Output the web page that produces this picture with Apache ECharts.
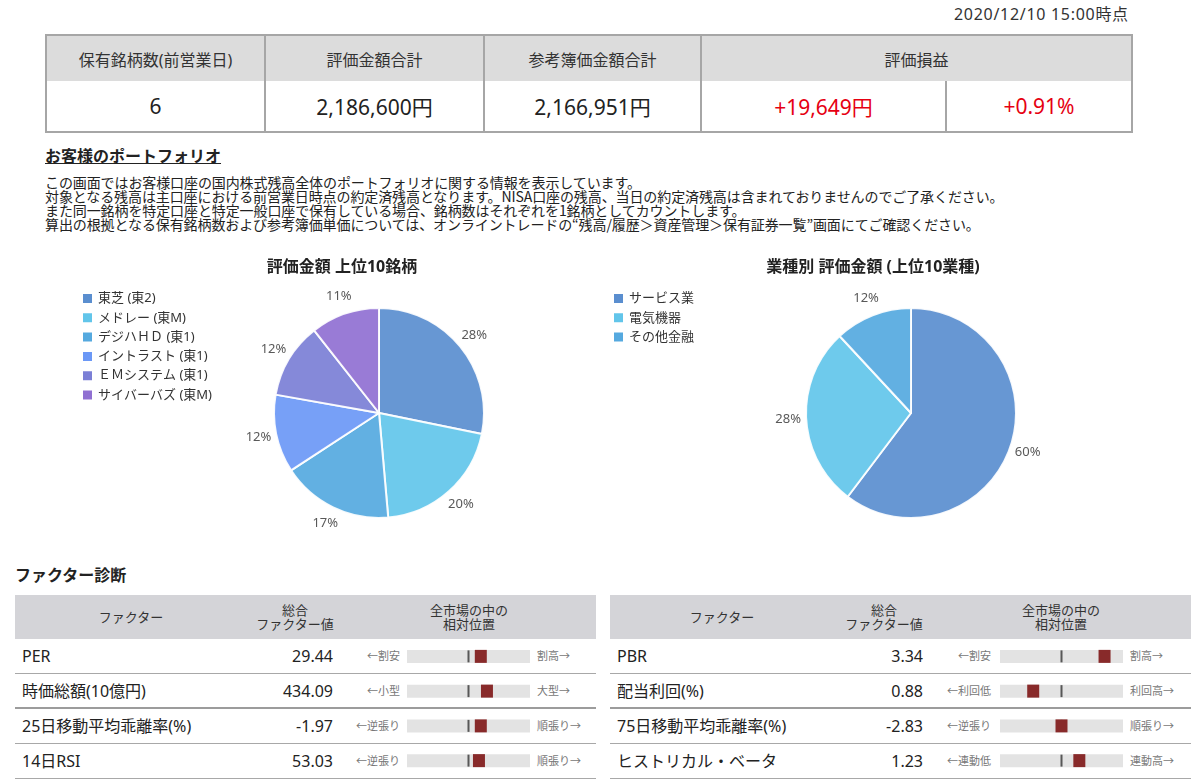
<!DOCTYPE html>
<html><head><meta charset="utf-8">
<script src="https://cdn.jsdelivr.net/npm/echarts@6/dist/echarts.min.js"></script>
<style>
body{margin:0;width:1200px;height:784px;position:relative;font-family:"Noto Sans","Noto Sans CJK JP",sans-serif;color:#333;background:#fff;overflow:hidden}
.abs{position:absolute}
#date{left:954px;top:4px;font-size:16px;line-height:20px;letter-spacing:0.7px;color:#333;white-space:nowrap}
#summary{position:absolute;left:45px;top:34px;width:1086px;border-collapse:collapse;table-layout:fixed}
#summary th{background:#dcdcdc;font-weight:normal;font-size:16px;color:#333;height:45px;border-left:2px solid #a6a6a6;border-right:2px solid #a6a6a6;border-top:2px solid #a6a6a6;padding:0}
#summary td{font-size:21px;color:#222;height:50px;text-align:center;border:2px solid #a6a6a6;border-top:none;padding:0}
#summary td.red{color:#e60012}
#ptitle{left:45px;top:145px;font-size:16px;font-weight:bold;text-decoration:underline;line-height:20px;color:#222;font-family:"Noto Sans CJK JP",sans-serif}
#desc{left:45px;top:175px;font-size:14px;line-height:14px;color:#222;white-space:nowrap;font-family:"Noto Sans CJK JP",sans-serif;letter-spacing:-0.1px}
#ftitle{left:15px;top:564px;font-size:16px;font-weight:bold;line-height:20px;color:#222;font-family:"Noto Sans CJK JP",sans-serif}
.ftable{position:absolute;top:595px;width:581px;height:184px}
.fhead{position:absolute;left:0;top:0;width:581px;height:44px;background:#d4d4d8}
.fhead div{position:absolute;top:0;height:44px;display:flex;align-items:center;justify-content:center;text-align:center;font-size:13px;line-height:14px;color:#333;width:160px;margin-left:-80px}
.frow{position:absolute;left:0;width:581px;height:35px;box-sizing:border-box;border-bottom:1px solid #a8a8a8}
.frow.thick{border-bottom:2px solid #9c9c9c}
.frow span{position:absolute;top:0;line-height:34px;white-space:nowrap}
.fname{left:7px;font-size:16px;color:#222}
.fval{font-size:16px;color:#222;text-align:right}
.flow,.fhigh{font-size:11px;color:#777}
.flow{text-align:right}
#pie1{left:0;top:250px;width:684px;height:290px}
#pie2{left:600px;top:250px;width:546px;height:290px}
#bar1{left:407px;top:639px;width:123px;height:139px}
#bar2{left:1000px;top:639px;width:123px;height:139px}
</style></head>
<body>
<div id="date" class="abs">2020/12/10 15:00時点</div>
<table id="summary">
<colgroup><col style="width:219px"><col style="width:219px"><col style="width:217px"><col style="width:245px"><col style="width:186px"></colgroup>
<tr id="sumHead"></tr>
<tr id="sumData"></tr>
</table>
<div id="ptitle" class="abs">お客様のポートフォリオ</div>
<div id="desc" class="abs">この画面ではお客様口座の国内株式残高全体のポートフォリオに関する情報を表示しています。<br>対象となる残高は主口座における前営業日時点の約定済残高となります。NISA口座の残高、当日の約定済残高は含まれておりませんのでご了承ください。<br>また同一銘柄を特定口座と特定一般口座で保有している場合、銘柄数はそれぞれを1銘柄としてカウントします。<br>算出の根拠となる保有銘柄数および参考簿価単価については、オンライントレードの“残高/履歴＞資産管理＞保有証券一覧”画面にてご確認ください。</div>
<div id="pie1" class="abs"></div>
<div id="pie2" class="abs"></div>
<div id="ftitle" class="abs">ファクター診断</div>
<div id="ft1" class="ftable" style="left:15px"></div>
<div id="ft2" class="ftable" style="left:610px"></div>
<div id="bar1" class="abs"></div>
<div id="bar2" class="abs"></div>
<script>
// ---- data ----
const summaryHeaders = ['保有銘柄数(前営業日)', '評価金額合計', '参考簿価金額合計', '評価損益'];
const summaryValues = ['6', '2,186,600円', '2,166,951円', '+19,649円', '+0.91%'];

const stockNames = ['東芝 (東2)', 'メドレー (東M)', 'デジハＨＤ (東1)', 'イントラスト (東1)', 'ＥＭシステム (東1)', 'サイバーバズ (東M)'];
const stockShares = [28.2, 20.4, 17.2, 12.0, 11.6, 10.6];

const industryNames = ['サービス業', '電気機器', 'その他金融'];
const industryShares = [60.3, 27.8, 11.9];

const leftFactors = ['PER', '時価総額(10億円)', '25日移動平均乖離率(%)', '14日RSI'];
const leftValues = ['29.44', '434.09', '-1.97', '53.03'];
const leftLow = ['←割安', '←小型', '←逆張り', '←逆張り'];
const leftHigh = ['割高→', '大型→', '順張り→', '順張り→'];
const leftPos = [60, 65, 60, 58.5];

const rightFactors = ['PBR', '配当利回(%)', '75日移動平均乖離率(%)', 'ヒストリカル・ベータ'];
const rightValues = ['3.34', '0.88', '-2.83', '1.23'];
const rightLow = ['←割安', '←利回低', '←逆張り', '←連動低'];
const rightHigh = ['割高→', '利回高→', '順張り→', '連動高→'];
const rightPos = [85, 27, 50, 64.5];

const marketMid = [50, 50, 50, 50];

// ---- summary table ----
const sh = document.getElementById('sumHead');
summaryHeaders.forEach((t, i) => {
  const th = document.createElement('th');
  th.textContent = t;
  if (i === 3) th.colSpan = 2;
  sh.appendChild(th);
});
const sd = document.getElementById('sumData');
summaryValues.forEach((t, i) => {
  const td = document.createElement('td');
  td.textContent = t;
  if (i >= 3) td.className = 'red';
  sd.appendChild(td);
});

// ---- factor tables ----
function buildTable(id, names, vals, lows, highs, geo) {
  const el = document.getElementById(id);
  let html = '<div class="fhead">' +
    '<div style="left:' + geo.c1 + 'px">ファクター</div>' +
    '<div style="left:' + geo.c2 + 'px">総合<br>ファクター値</div>' +
    '<div style="left:' + geo.c3 + 'px">全市場の中の<br>相対位置</div></div>';
  names.forEach((n, i) => {
    html += '<div class="frow' + (i === 1 ? ' thick' : '') + '" style="top:' + (44 + 35 * i) + 'px">' +
      '<span class="fname">' + n + '</span>' +
      '<span class="fval" style="right:' + geo.valRight + 'px">' + vals[i] + '</span>' +
      '<span class="flow" style="right:' + geo.lowRight + 'px">' + lows[i] + '</span>' +
      '<span class="fhigh" style="left:' + geo.highLeft + 'px">' + highs[i] + '</span></div>';
  });
  el.innerHTML = html;
}
buildTable('ft1', leftFactors, leftValues, leftLow, leftHigh, {c1: 116, c2: 280, c3: 454, valRight: 263, lowRight: 196, highLeft: 522});
buildTable('ft2', rightFactors, rightValues, rightLow, rightHigh, {c1: 112, c2: 274, c3: 451, valRight: 268, lowRight: 200, highLeft: 520});

// ---- charts ----
const FONT = "'Noto Sans', 'Noto Sans CJK JP', sans-serif";
const PALETTE = ['#5a8ecf', '#62c5ea', '#55a9df', '#6b98f6', '#7b7fd6', '#9070d2'];

function pieOption(title, names, values, center, legendLeft) {
  const data = names.map((n, i) => ({name: n, value: values[i]}));
  return {
    animation: false,
    color: PALETTE,
    title: {text: title, left: 'center', top: 9, padding: 0,
      textStyle: {fontSize: 16, fontWeight: 'bold', color: '#222', fontFamily: FONT}},
    legend: {orient: 'vertical', left: legendLeft, top: 42, padding: 0, itemWidth: 11, itemHeight: 11, itemGap: 6.3,
      icon: 'rect', data: names, itemStyle: {opacity: 1},
      textStyle: {fontSize: 13, color: '#333', fontFamily: FONT}},
    series: [{
      type: 'pie', radius: 105, center: center, startAngle: 90, clockwise: true,
      silent: true, data: data,
      itemStyle: {borderColor: '#fff', borderWidth: 2, opacity: 0.92},
      label: {show: false}, labelLine: {show: false}
    }, {
      // label ring: percentages centred just outside the pie
      type: 'pie', radius: [105, 135], center: center, startAngle: 90, clockwise: true,
      silent: true, data: data, legendHoverLink: false,
      itemStyle: {color: 'rgba(0,0,0,0)', borderWidth: 0},
      label: {show: true, position: 'inside', color: '#595959', fontSize: 13, fontFamily: FONT,
        textBorderWidth: 0, formatter: p => Math.round(p.percent) + '%'},
      labelLine: {show: false}
    }]
  };
}

const pie1 = echarts.init(document.getElementById('pie1'));
pie1.setOption(pieOption('評価金額 上位10銘柄', stockNames, stockShares, [379, 163], 81));
const pie2 = echarts.init(document.getElementById('pie2'));
pie2.setOption(pieOption('業種別 評価金額 (上位10業種)', industryNames, industryShares, [311, 163], 12));

function factorOption(names, pos) {
  return {
    animation: false,
    grid: {left: 0, right: 0, top: 0, bottom: 0},
    xAxis: {type: 'value', min: 0, max: 100, show: false},
    yAxis: {type: 'category', data: names, inverse: true, show: false},
    series: [
      {type: 'bar', data: pos, barWidth: 13, itemStyle: {color: 'rgba(0,0,0,0)'},
        showBackground: true, backgroundStyle: {color: '#e3e3e3'}, silent: true},
      {type: 'scatter', data: marketMid.map((v, i) => [v, i]), symbol: 'rect', symbolSize: [2, 12],
        itemStyle: {color: '#333'}, z: 3, silent: true},
      {type: 'scatter', data: pos.map((v, i) => [v, i]), symbol: 'rect', symbolSize: [12, 13],
        itemStyle: {color: '#882a2a', opacity: 1}, z: 4, silent: true}
    ]
  };
}
echarts.init(document.getElementById('bar1')).setOption(factorOption(leftFactors, leftPos));
echarts.init(document.getElementById('bar2')).setOption(factorOption(rightFactors, rightPos));
</script>
</body></html>
